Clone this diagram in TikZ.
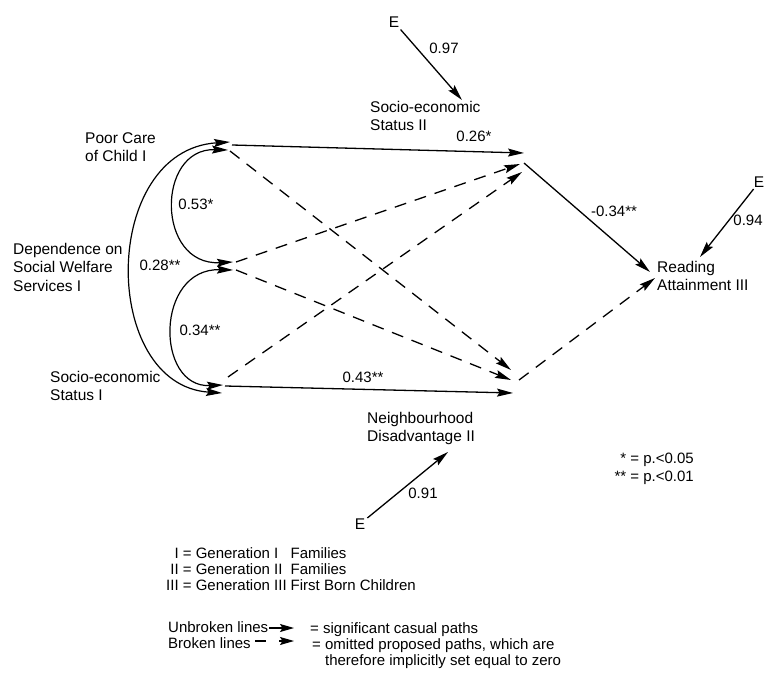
\documentclass[tikz,border=0pt]{standalone}
\usepackage{fontspec}
\setmainfont{Liberation Sans}
\usetikzlibrary{arrows.meta}
\begin{document}
\begin{tikzpicture}[x=1pt,y=-1pt,
  every node/.style={font=\fontsize{15.5}{18.5}\selectfont},
  lbl/.style={inner sep=0pt, align=left, anchor=north west},
  num/.style={inner sep=0pt, font=\fontsize{15}{18}\selectfont},
  leg/.style={inner sep=0pt, font=\fontsize{15}{18}\selectfont},
  enode/.style={inner sep=2pt},
  tipx/.style={-{Stealth[length=16pt,width=8pt,inset=2.5pt]}},
  solidarr/.style={line width=1.3pt, tipx},
  dasharr/.style={line width=1.3pt, tipx, dash pattern=on 12pt off 9pt},
  corr/.style={line width=1.2pt, {Stealth[length=16pt,width=8pt,inset=2.5pt]}-{Stealth[length=16pt,width=8pt,inset=2.5pt]}}
]
\useasboundingbox (0,0) rectangle (766,682);
\clip (0,0) rectangle (766,682);

% ---- text nodes ----
\node[lbl] (pc) at (85,132) {Poor Care\\of Child I};
\node[lbl] (dw) at (13,243) {Dependence on\\Social Welfare\\Services I};
\node[lbl] (s1) at (50,371) {Socio-economic\\Status I};
\node[lbl] (s2) at (370,101) {Socio-economic\\Status II};
\node[lbl] (ra) at (657,261) {Reading\\Attainment III};
\node[lbl] (nd) at (367,412) {Neighbourhood\\Disadvantage II};

\node[enode] (e1) at (394,22) {E};
\node[enode] (e2) at (360,524) {E};
\node[inner sep=1.5pt, anchor=east] (e3) at (766,182) {E};

% ---- connector end points ----
\coordinate (pcA) at (230,142);
\coordinate (pcB) at (228,150);
\coordinate (pcS) at (232,145);
\coordinate (pcD) at (230,151);
\coordinate (dwA) at (233,262);
\coordinate (dwB) at (233,270);
\coordinate (dwU) at (236,262);
\coordinate (dwL) at (236,270);
\coordinate (s1A) at (222,393);
\coordinate (s1B) at (223,385);
\coordinate (s1S) at (225,386);
\coordinate (s1D) at (228,377);
\coordinate (s2a) at (524,153);
\coordinate (s2b) at (520,164);
\coordinate (s2c) at (522,172);
\coordinate (s2o) at (524,163);
\coordinate (s2e) at (462,100);
\coordinate (nda) at (511,370);
\coordinate (ndb) at (511,380);
\coordinate (ndc) at (513,393);
\coordinate (ndo) at (519,380);
\coordinate (nde) at (448,452);
\coordinate (raa) at (650,272);
\coordinate (rab) at (655,278);
\coordinate (rae) at (700,257);

% ---- correlations ----
\draw[corr] (pcA) .. controls (100,150) and (100,385) .. (s1A);
\draw[corr] (pcB) .. controls (156,148) and (156,266) .. (dwA);
\draw[corr] (dwB) .. controls (155,268) and (155,388) .. (s1B);

% ---- paths ----
\draw[solidarr] (pcS) -- (s2a);
\draw[dasharr] (pcD) -- (nda);
\draw[dasharr] (dwU) -- (s2b);
\draw[dasharr] (dwL) -- (ndb);
\draw[solidarr] (s1S) -- (ndc);
\draw[dasharr] (s1D) -- (s2c);
\draw[solidarr] (s2o) -- (raa);
\draw[dasharr] (ndo) -- (rab);
\draw[solidarr] (e1) -- (s2e);
\draw[solidarr] (e2) -- (nde);
\draw[solidarr] (e3) -- (rae);

% ---- coefficients ----
\node[num] (c097) at (444,48) {0.97};
\node[num] (c026) at (474,136) {0.26*};
\node[num] (c034b) at (614,211) {-0.34**};
\node[num] (c094) at (748,220) {0.94};
\node[num] (c043) at (363,377) {0.43**};
\node[num] (c091) at (423,493) {0.91};
\node[num] (c053) at (196,204) {0.53*};
\node[num] (c028) at (160,265) {0.28**};
\node[num] (c034) at (200,330) {0.34**};

% ---- significance legend ----
\node[leg, anchor=north east] (pv) at (694,451)
  {\begin{tabular}{@{}r@{ }l@{}}*&= p.<0.05\\{}**&= p.<0.01\end{tabular}};

% ---- generation legend ----
\node[leg, anchor=north west] (gen) at (166,547)
  {\def\arraystretch{0.9}\begin{tabular}{@{}r@{ = }l@{\hspace{4pt}}l@{}}
   I & Generation I & Families\\
   II & Generation II & Families\\
   III & Generation III & First Born Children
  \end{tabular}};

% ---- line legend ----
\node[leg, anchor=base west] (lu) at (168,632) {Unbroken lines};
\node[leg, anchor=base west] (ls) at (310,633) {= significant casual paths};
\node[leg, anchor=base west] (lb) at (168,648) {Broken lines};
\node[leg, anchor=north west] (lo) at (312,638)
  {\def\arraystretch{0.9}\begin{tabular}{@{}l@{ }l@{}}= & omitted proposed paths, which are\\ & therefore implicitly set equal to zero\end{tabular}};

\coordinate (u1) at (269,628);
\coordinate (u2) at (294,628);
\coordinate (b1) at (255,641);
\coordinate (b2) at (266,641);
\coordinate (b3) at (279,641);
\coordinate (b4) at (294,641);
\draw[line width=1.2pt, -{Stealth[length=14pt,width=8pt,inset=2.5pt]}] (u1) -- (u2);
\draw[line width=1.2pt] (b1) -- (b2);
\draw[line width=1.2pt, -{Stealth[length=14pt,width=8pt,inset=2.5pt]}] (b3) -- (b4);
\end{tikzpicture}
\end{document}
